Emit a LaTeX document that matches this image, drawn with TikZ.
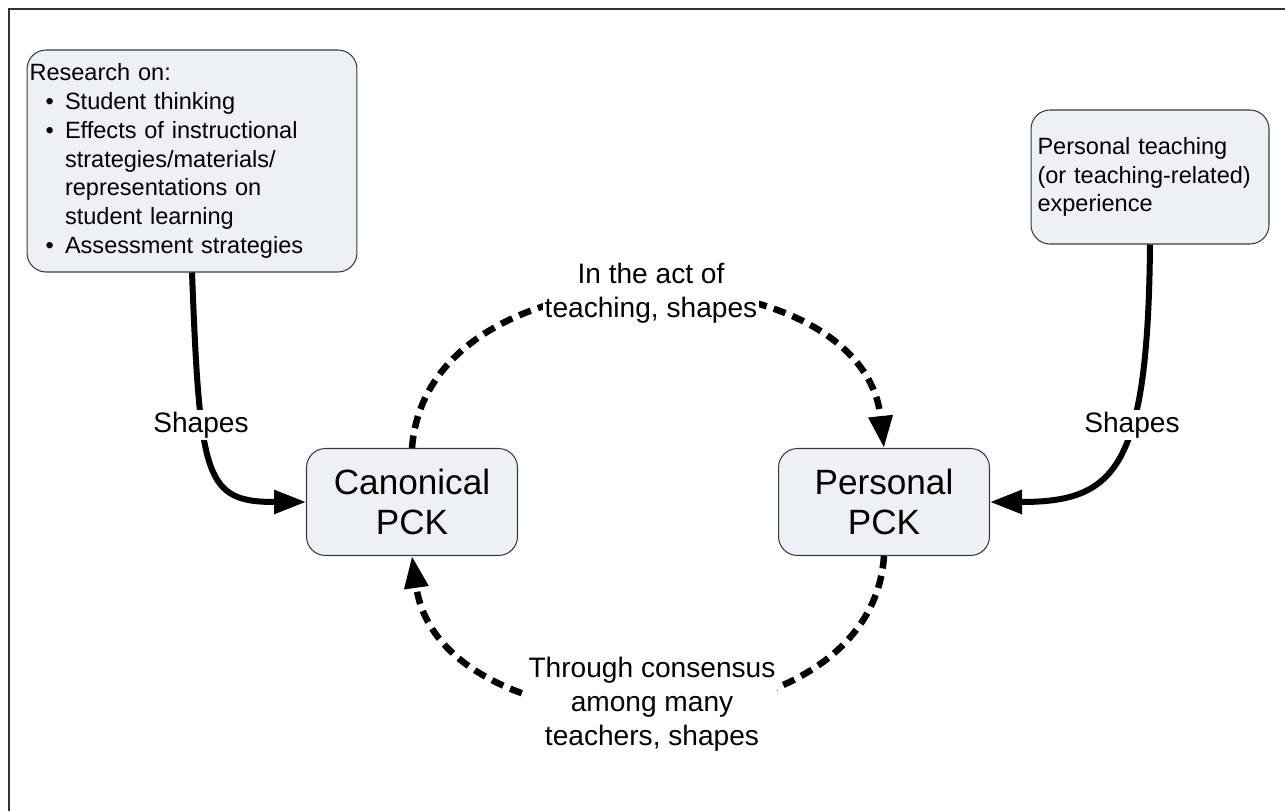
\documentclass[tikz,border=0pt]{standalone}
\usepackage{fontspec}
\setmainfont{Liberation Sans}
\usetikzlibrary{arrows.meta}
\definecolor{boxfill}{HTML}{EDF0F5}
\definecolor{boxline}{HTML}{3A3A3A}
\newcommand{\bitem}{\hspace*{0.32cm}\makebox[0.39cm][l]{\textbullet}}
\newcommand{\bcont}{\hspace*{0.71cm}}

\begin{document}
\begin{tikzpicture}[
  x=0.02cm, y=-0.02cm,
  box/.style={draw=boxline, fill=boxfill, line width=0.6pt, rounded corners=0.38cm},
  pck/.style={box, minimum width=4.22cm, minimum height=2.14cm, align=center, font=\fontsize{20}{22.5}\selectfont},
  src/.style={box, align=left, font=\fontsize{13.4}{16.4}\selectfont},
  lbl/.style={fill=white, inner sep=1pt, align=center, font=\fontsize{16}{19.5}\selectfont},
  flow/.style={line width=0.12cm, -{Triangle[length=0.64cm,width=0.46cm]}},
  loopflow/.style={flow, line width=0.13cm, dash pattern=on 0.25cm off 0.15cm}
]
\useasboundingbox (0,0) rectangle (1285,811);
\draw[line width=0.6pt, black!80] (9,811) -- (9,9) -- (1285,9);

\node[src, text width=6.5cm, inner xsep=0.05cm, minimum height=4.44cm] (research) at (192,161)
  {Research on:\\
   \bitem Student thinking\\
   \bitem Effects of instructional\\
   \bcont strategies/materials/\\
   \bcont representations on\\
   \bcont student learning\\
   \bitem Assessment strategies};
\node[src, text width=4.5cm, inner xsep=0.13cm, minimum height=2.68cm] (experience) at (1150,177)
  {Personal teaching\\(or teaching-related)\\experience};
\node[pck] (canon) at (412,502) {Canonical\\PCK};
\node[pck] (personal) at (884,502) {Personal\\PCK};

\draw[flow] (research.south) .. controls (200,480) and (205,502) .. (canon.west);
\draw[flow] (experience.south) .. controls (1148,470) and (1115,502) .. (personal.east);
\draw[loopflow] (canon.north) .. controls (428,238) and (862,246) .. (personal.north);
\draw[loopflow] (personal.south) .. controls (870,762) and (440,758) .. (canon.south);

\node[lbl] (shapesleft) at (201,425) {Shapes};
\node[lbl] (shapesright) at (1132,425) {Shapes};
\node[lbl] (actlbl) at (651,293) {In the act of\\teaching, shapes};
\node[lbl] (consensus) at (652,704) {Through consensus\\among many\\teachers, shapes};

\end{tikzpicture}
\end{document}
